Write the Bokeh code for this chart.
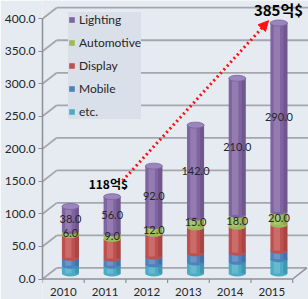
import numpy as np
from bokeh.plotting import figure
from bokeh.models import (Range1d, FixedTicker, NumeralTickFormatter, Legend, LegendItem,
                          Label, Arrow, NormalHead, ColumnDataSource, BoxAnnotation)
from bokeh.core.properties import value
from bokeh.embed import file_html
from bokeh.resources import INLINE

# ---------------- data ----------------
years = ["2010", "2011", "2012", "2013", "2014", "2015"]
lighting = [38, 56, 92, 142, 210, 290]
automotive = [6, 9, 12, 15, 18, 20]
display = [35, 30, 35, 40, 40, 40]
mobile = [12, 11, 12, 14, 14, 13]
etc = [12, 12, 14, 17, 18, 22]
series_names = ["etc.", "Mobile", "Display", "Automotive", "Lighting"]  # bottom -> top
labelled_series = ["Automotive", "Lighting"]
y_ticks = [0, 50, 100, 150, 200, 250, 300, 350, 400]
callout_years = ["2011", "2015"]
callout_texts = ["118억$", "385억$"]

# ---------------- style ----------------
BG = "#e6ebf2"
GRID = "#a3a7ad"
AXIS = "#8d9197"
TXT = "#262626"
FONT = "Lato"
colors = {"etc.": "#4bacc6", "Mobile": "#4f81bd", "Display": "#c0504d",
          "Automotive": "#9bbb59", "Lighting": "#8064a2"}
DEPTH_X, DEPTH_Y = 0.34, 17.0      # 3-D depth offset in data units
BAR_W = 0.41
BAR_PX, ELL_PX = 17, 6
XLABEL_Y = -20.0                   # data-space row for year labels
TICK_LEN = 6.0

stack_vals = {"etc.": etc, "Mobile": mobile, "Display": display,
              "Automotive": automotive, "Lighting": lighting}
totals = np.sum([np.array(stack_vals[n]) for n in series_names], axis=0)

p = figure(width=308, height=299, x_range=Range1d(0, 6.379), y_range=Range1d(-31.5, 428.1),
           output_backend="svg", toolbar_location=None,
           min_border_left=42, min_border_right=0, min_border_top=0, min_border_bottom=0,
           background_fill_color=BG, border_fill_color=BG, outline_line_color=None)
p.xgrid.visible = False
p.ygrid.visible = False
p.xaxis.visible = False

n = len(years)
x_cat = np.arange(n) + 0.5
bar_x = x_cat + DEPTH_X / 2
base = DEPTH_Y / 2

# ---- 3D walls / gridlines ----
gy = np.array(y_ticks, dtype=float)
p.segment(x0=np.zeros_like(gy), y0=gy, x1=np.full_like(gy, DEPTH_X), y1=gy + DEPTH_Y,
          line_color=GRID, line_width=1.8)
back_end = np.full_like(gy, 7.0)
back_end[0] = n + DEPTH_X
p.segment(x0=np.full_like(gy, DEPTH_X), y0=gy + DEPTH_Y, x1=back_end, y1=gy + DEPTH_Y,
          line_color=GRID, line_width=1.8)
# floor front edge + right diagonal
p.segment(x0=[0, n], y0=[0, 0], x1=[n, n + DEPTH_X], y1=[0, DEPTH_Y],
          line_color=AXIS, line_width=1.5)
# category tick marks
bx = np.arange(n + 1, dtype=float)
p.segment(x0=bx, y0=np.zeros_like(bx), x1=bx, y1=np.full_like(bx, -TICK_LEN),
          line_color=AXIS, line_width=1.2)
# year labels
p.text(x=x_cat, y=np.full(n, XLABEL_Y), text=years, text_align="center",
       text_baseline="middle", text_font=value(FONT), text_font_size="11.5px",
       text_color=TXT)

# ---- stacked cylinders ----
renderers = {}
bottom = np.full(n, base)
for name in series_names:
    vals = np.array(stack_vals[name], dtype=float)
    top = bottom + vals
    src = ColumnDataSource(dict(x=bar_x, bottom=bottom, top=top))
    col = colors[name]
    p.ellipse(x="x", y="bottom", width=BAR_PX, height=ELL_PX, width_units="screen",
              height_units="screen", fill_color=col, line_color=None, source=src)
    r = p.vbar(x="x", bottom="bottom", top="top", width=BAR_W, fill_color=col,
               line_color=None, source=src)
    renderers[name] = r
    hs = ColumnDataSource(dict(x=bar_x - 0.05, bottom=bottom, top=top))
    p.vbar(x="x", bottom="bottom", top="top", width=0.15, fill_color="white",
           fill_alpha=0.16, line_color=None, source=hs)
    ds = ColumnDataSource(dict(x=bar_x + 0.155, bottom=bottom, top=top))
    p.vbar(x="x", bottom="bottom", top="top", width=0.1, fill_color="black",
           fill_alpha=0.12, line_color=None, source=ds)
    bottom = top

# top cap
cap = ColumnDataSource(dict(x=bar_x, y=bottom))
p.ellipse(x="x", y="y", width=BAR_PX, height=ELL_PX, width_units="screen",
          height_units="screen", fill_color="#9a86bd", line_color="#7a619c",
          line_width=0.8, source=cap)

# ---- data labels ----
bottom = np.full(n, base)
for name in series_names:
    vals = np.array(stack_vals[name], dtype=float)
    top = bottom + vals
    if name in labelled_series:
        src = ColumnDataSource(dict(x=bar_x, y=(bottom + top) / 2,
                                    lab=[f"{v:.1f}" for v in vals]))
        p.text(x="x", y="y", text="lab", source=src, text_align="center",
               text_baseline="middle", text_font=value(FONT), text_font_size="11px",
               text_color=TXT)
    bottom = top

# ---- y axis ----
p.yaxis.ticker = FixedTicker(ticks=y_ticks)
p.yaxis.formatter = NumeralTickFormatter(format="0.0")
p.yaxis.bounds = (0, 400)
p.yaxis.axis_line_color = AXIS
p.yaxis.axis_line_width = 1.5
p.yaxis.major_tick_line_color = AXIS
p.yaxis.major_tick_out = 4
p.yaxis.major_tick_in = 0
p.yaxis.minor_tick_line_color = None
p.yaxis.major_label_text_font = FONT
p.yaxis.major_label_text_font_size = "12px"
p.yaxis.major_label_text_color = TXT
p.yaxis.major_label_standoff = 3

# ---- growth arrow & callouts ----
i0, i1 = years.index(callout_years[0]), years.index(callout_years[1])
p.add_layout(Arrow(x_start=x_cat[i0] + 0.42, y_start=totals[i0] + 33,
                   x_end=x_cat[i1] - 0.08, y_end=totals[i1] + 12,
                   line_color="#ff1010", line_width=3, line_dash="2 3",
                   end=NormalHead(size=10, fill_color="#ff1010", line_color="#ff1010")))
callout_dx = [0.08, 0.16]
callout_size = ["12px", "15px"]
for i, (yr, t) in enumerate(zip(callout_years, callout_texts)):
    k = years.index(yr)
    p.add_layout(Label(x=x_cat[k] + callout_dx[i], y=totals[k] + 29, text=t,
                       text_align="center", text_baseline="middle",
                       text_font="Noto Sans CJK KR", text_font_style="bold",
                       text_font_size=callout_size[i], text_color="#000000"))

# ---- legend ----
items = [LegendItem(label=nm, renderers=[renderers[nm]]) for nm in reversed(series_names)]
legend = Legend(items=items, location=(26, 180), margin=0, padding=3, spacing=8,
                label_standoff=4, glyph_width=7, glyph_height=7, label_height=13,
                label_text_font=FONT, label_text_font_size="12px", label_text_color=TXT,
                background_fill_color="#d9e0ea", background_fill_alpha=1,
                border_line_color=None)
p.add_layout(legend)
# red underline under the first legend entry
p.add_layout(BoxAnnotation(left=0.67, right=1.92, bottom=378.5, top=381.5,
                           fill_color="#e8141b", fill_alpha=1, line_color=None))

open("out.html", "w").write(file_html(p, INLINE))
